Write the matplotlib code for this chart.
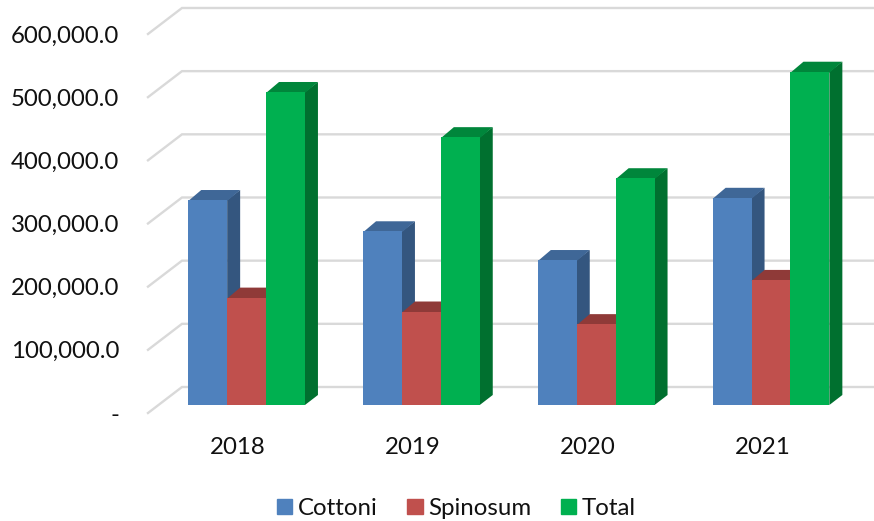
import matplotlib
matplotlib.use("Agg")
import matplotlib.pyplot as plt
from matplotlib.patches import Patch

years = ["2018", "2019", "2020", "2021"]
cottoni = [324500, 275000, 229500, 328000]
spinosum = [170000, 148000, 128000, 198000]
total = [495500, 424000, 359000, 527600]
series_names = ["Cottoni", "Spinosum", "Total"]
y_ticks = [0, 100000, 200000, 300000, 400000, 500000, 600000]
y_labels = ["-", "100,000.0", "200,000.0", "300,000.0", "400,000.0", "500,000.0", "600,000.0"]

W, H = 874, 521
PX_X = 174.8            # pixels per category
PX_Y = 63.17 / 100000   # pixels per unit of value
AX_L, AX_R, AX_BOT, AX_TOP = 148, 874, 413, 2
CENTER0 = 238

plt.rcParams["font.family"] = ["Lato", "DejaVu Sans"]
fig = plt.figure(figsize=(W / 100, H / 100), dpi=100)
ax = fig.add_axes([AX_L / W, 1 - AX_BOT / H, (AX_R - AX_L) / W, (AX_BOT - AX_TOP) / H])
ax.set_xlim((AX_L - CENTER0) / PX_X, (AX_R - CENTER0) / PX_X)
ax.set_ylim(0, (AX_BOT - AX_TOP) / PX_Y)
for s in ax.spines.values():
    s.set_visible(False)

def ux(px):
    return px / PX_X

def uy(px):
    return px / PX_Y

# walls: gridlines on floor side and back wall
wx, wy = ux(34), uy(26)
x0 = ax.get_xlim()[0]
x1 = ax.get_xlim()[1]
for t in y_ticks:
    ax.plot([x0, x0 + wx, x1], [t, t + wy, t + wy], color="#D9D9D9", lw=1.7,
            solid_joinstyle="miter", zorder=1, clip_on=False)

# bars
bar_w = ux(38.9)
shift = ux(8.6)
lift = uy(8)
dx, dy = ux(13), uy(10)
seam = uy(1)
colors = [("#4F81BD", "#3F6797", "#34567F"),
          ("#C0504D", "#8F3A38", "#8F3A38"),
          ("#00B050", "#00863B", "#00702F")]
all_series = [cottoni, spinosum, total]
z = 3
for k, (vals, (front, top, side)) in enumerate(zip(all_series, colors)):
    for i, v in enumerate(vals):
        left = i + shift + (k - 1.5) * bar_w
        right = left + bar_w
        y0, y1 = lift, lift + v
        ax.fill([right, right + dx, right + dx, right],
                [y0, y0 + dy, y1 + dy, y1], color=side, lw=0, zorder=z)
        ax.fill([left, left + dx, right + dx, right],
                [y1 - seam, y1 + dy, y1 + dy, y1 - seam], color=top, lw=0, zorder=z)
        ax.bar(left, v, width=bar_w, bottom=lift, align="edge", color=front,
               lw=0, zorder=z + 0.5)
    z += 1

ax.set_xticks(range(len(years)), years)
ax.set_yticks(y_ticks, y_labels)
ax.tick_params(axis="both", length=0, labelsize=17.3, colors="#111111")
ax.tick_params(axis="y", pad=20.9)
ax.tick_params(axis="x", pad=17.5)

handles = [Patch(color=c[0], label=n) for c, n in zip(colors, series_names)]
ax.legend(handles=handles, ncol=3, frameon=False, fontsize=17.3,
          loc="center", bbox_to_anchor=(456.5 / W, 1 - 508.5 / H), bbox_transform=fig.transFigure,
          handlelength=0.63, handleheight=0.63, handletextpad=0.23, columnspacing=1.25,
          borderpad=0, borderaxespad=0, labelcolor="#111111")

fig.savefig("out.png", dpi=100)
